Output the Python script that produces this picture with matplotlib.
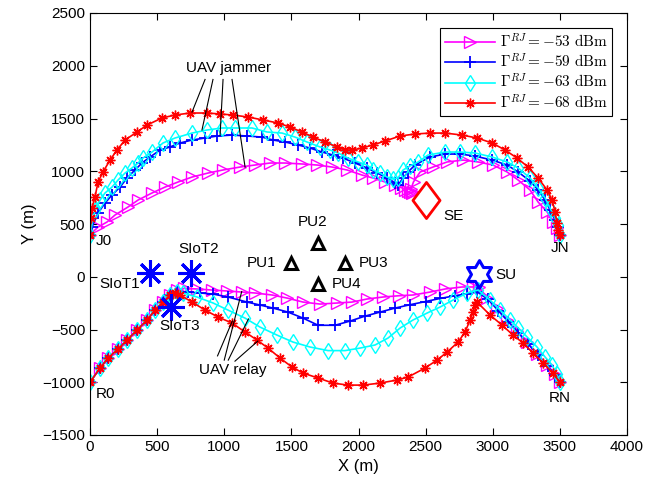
import numpy as np
import matplotlib
matplotlib.use("Agg")
import matplotlib.pyplot as plt
from matplotlib.path import Path

plt.rcParams['font.family'] = ['Liberation Sans', 'DejaVu Sans']
plt.rcParams['mathtext.fontset'] = 'cm'

# ---- data ----
legend_labels = [r'$\Gamma^{RJ} = -53\ \mathrm{dBm}$', r'$\Gamma^{RJ} = -59\ \mathrm{dBm}$',
                 r'$\Gamma^{RJ} = -63\ \mathrm{dBm}$', r'$\Gamma^{RJ} = -68\ \mathrm{dBm}$']

# UAV jammer trajectories
jam53_x = [0, 60, 127, 186, 283, 358, 462, 559, 656, 760, 879, 991, 1118, 1229, 1341, 1453, 1579, 1691,
           1803, 1915, 2026, 2108, 2198, 2272, 2320, 2345, 2365, 2380, 2395, 2405, 2390, 2410, 2459, 2555,
           2660, 2779, 2891, 3002, 3107, 3189, 3278, 3338, 3405, 3449, 3479, 3500]
jam53_y = [400, 471, 519, 585, 661, 727, 794, 850, 898, 945, 983, 1012, 1040, 1059, 1078, 1078, 1069, 1059,
           1040, 1012, 964, 936, 898, 869, 845, 825, 810, 800, 790, 800, 830, 900, 993, 1040,
           1088, 1106, 1088, 1059, 993, 917, 822, 708, 614, 519, 462, 400]

jam59_x = [0, 15, 60, 112, 164, 224, 276, 335, 387, 447, 522, 596, 671, 760, 857, 946, 1058, 1170, 1281,
           1363, 1453, 1550, 1639, 1728, 1810, 1885, 1974, 2064, 2138, 2213, 2272, 2295, 2332, 2369, 2421,
           2533, 2645, 2757, 2868, 2995, 3107, 3189, 3278, 3338, 3390, 3427, 3464, 3487, 3500]
jam59_y = [400, 471, 604, 699, 775, 850, 936, 1012, 1078, 1135, 1201, 1230, 1268, 1296, 1315, 1334, 1343,
           1334, 1324, 1296, 1277, 1249, 1220, 1182, 1154, 1125, 1078, 1031, 983, 936, 888, 869, 936, 993,
           1059, 1135, 1163, 1163, 1144, 1106, 1059, 993, 907, 822, 727, 632, 538, 471, 400]

jam63_x = [0, 37, 75, 112, 164, 209, 261, 313, 358, 395, 462, 544, 633, 760, 872, 983, 1080, 1207, 1319,
           1430, 1527, 1617, 1714, 1788, 1848, 1922, 1997, 2064, 2108, 2160, 2213, 2257, 2295, 2332, 2384,
           2444, 2518, 2645, 2757, 2868, 2995, 3107, 3189, 3278, 3338, 3390, 3427, 3464, 3487, 3500]
jam63_y = [400, 632, 727, 794, 850, 917, 983, 1031, 1078, 1125, 1182, 1268, 1315, 1362, 1391, 1410, 1410,
           1410, 1372, 1362, 1324, 1277, 1230, 1201, 1173, 1125, 1088, 1059, 1012, 983, 945, 926, 936, 1012,
           1050, 1088, 1154, 1182, 1182, 1173, 1135, 1088, 1031, 936, 841, 746, 651, 557, 490, 400]

jam68_x = [0, 7, 15, 37, 60, 97, 149, 201, 261, 350, 425, 536, 633, 745, 872, 969, 1065, 1177, 1289, 1401,
           1490, 1579, 1661, 1751, 1840, 1900, 1952, 2026, 2108, 2198, 2310, 2421, 2533, 2645, 2771, 2883,
           2995, 3092, 3181, 3263, 3338, 3405, 3442, 3464, 3479, 3487, 3500]
jam68_y = [400, 557, 651, 756, 898, 993, 1106, 1201, 1296, 1372, 1438, 1505, 1533, 1552, 1552, 1543, 1533,
           1514, 1486, 1457, 1419, 1372, 1324, 1277, 1230, 1201, 1201, 1220, 1249, 1287, 1334, 1353, 1362,
           1362, 1343, 1315, 1268, 1201, 1125, 1040, 936, 822, 727, 614, 509, 443, 400]

# UAV relay trajectories
rel53_x = [0, 75, 134, 209, 276, 350, 425, 484, 544, 596, 648, 700, 797, 909, 1021, 1132, 1229, 1356, 1468,
           1587, 1714, 1840, 1952, 2064, 2183, 2300, 2406, 2533, 2645, 2771, 2853, 2900, 2958, 3032, 3107,
           3181, 3256, 3330, 3405, 3460, 3500]
rel53_y = [-1000, -865, -771, -685, -600, -505, -410, -316, -240, -173, -130, -110, -116, -126, -135, -145,
           -154, -173, -202, -240, -259, -249, -240, -211, -192, -180, -173, -145, -116, -97, -97, -100,
           -200, -300, -410, -510, -620, -730, -840, -920, -1000]

rel59_x = [0, 75, 134, 209, 276, 350, 425, 484, 544, 596, 648, 730, 820, 917, 1028, 1170, 1266, 1363, 1475,
           1587, 1699, 1825, 1937, 2049, 2160, 2272, 2384, 2500, 2610, 2720, 2810, 2880, 2965, 3040, 3115,
           3190, 3265, 3340, 3410, 3465, 3500]
rel59_y = [-1000, -865, -771, -685, -600, -505, -410, -316, -240, -173, -140, -145, -154, -164, -192, -240,
           -268, -297, -335, -392, -460, -460, -420, -373, -335, -297, -265, -235, -205, -180, -160, -140,
           -215, -320, -425, -530, -640, -745, -850, -930, -1000]

rel63_x = [0, 75, 134, 209, 276, 350, 425, 484, 544, 596, 648, 693, 797, 917, 1028, 1155, 1266, 1393, 1512,
           1639, 1773, 1900, 2012, 2123, 2220, 2310, 2406, 2511, 2608, 2704, 2809, 2891, 2980, 3055, 3129,
           3190, 3256, 3330, 3390, 3442, 3475, 3500]
rel63_y = [-1000, -865, -771, -685, -600, -505, -410, -316, -240, -173, -145, -154, -192, -249, -316, -392,
           -477, -553, -619, -666, -700, -700, -676, -647, -581, -486, -410, -344, -287, -221, -154, -126,
           -221, -316, -410, -485, -571, -666, -761, -837, -920, -1000]

rel68_x = [0, 75, 134, 209, 276, 350, 425, 484, 544, 596, 635, 671, 760, 857, 954, 1058, 1155, 1244, 1326,
           1416, 1505, 1587, 1699, 1810, 1922, 2034, 2160, 2287, 2369, 2496, 2585, 2660, 2742, 2794, 2831,
           2853, 2868, 2883, 2980, 3069, 3151, 3226, 3300, 3375, 3449, 3500]
rel68_y = [-1000, -865, -771, -685, -600, -505, -410, -316, -240, -173, -150, -173, -240, -316, -382, -439,
           -524, -600, -676, -771, -856, -913, -960, -1008, -1027, -1027, -1008, -979, -951, -865, -790, -714,
           -619, -524, -410, -335, -268, -240, -363, -458, -553, -628, -723, -818, -913, -1000]

# fixed nodes
pu_names = ['PU1', 'PU2', 'PU3', 'PU4']
pu_x = [1500, 1700, 1900, 1700]
pu_y = [130, 320, 130, -70]
siot_names = ['SIoT1', 'SIoT2', 'SIoT3']
siot_x = [450, 750, 600]
siot_y = [40, 40, -290]
su_x, su_y = 2900, 30
se_x, se_y = 2500, 730
end_names = ['J0', 'JN', 'R0', 'RN']
end_x = [0, 3500, 0, 3500]
end_y = [400, 400, -1000, -1000]

# ---- figure ----
fig = plt.figure(figsize=(6.65, 4.91), dpi=100)
ax = fig.add_axes([90 / 665, 1 - 435 / 491, 537 / 665, 422 / 491])

ax.plot(end_x, end_y, 'kx', ms=5, mew=2, zorder=1)

styles = [dict(color='#ff00ff', marker='>', mfc='none', ms=8),
          dict(color='#0000ff', marker='+', ms=8, mew=1.3),
          dict(color='#00ffff', marker='d', mfc='none', ms=8.5),
          dict(color='#ff0000', marker=(8, 2, 0), ms=7, mew=1.0)]
jam = [(jam53_x, jam53_y), (jam59_x, jam59_y), (jam63_x, jam63_y), (jam68_x, jam68_y)]
rel = [(rel53_x, rel53_y), (rel59_x, rel59_y), (rel63_x, rel63_y), (rel68_x, rel68_y)]
handles = []
for st, (jx, jy), (rx, ry), lab in zip(styles, jam, rel, legend_labels):
    h, = ax.plot(jx, jy, lw=1.2, label=lab, **st)
    ax.plot(rx, ry, lw=1.2, **st)
    handles.append(h)

# PUs
ax.plot(pu_x, pu_y, '^', color='k', mfc='none', ms=9, mew=2.2, ls='none')
ax.text(pu_x[0] - 110, pu_y[0], pu_names[0], ha='right', va='center', fontsize=11)
ax.text(pu_x[1] - 40, pu_y[1] + 130, pu_names[1], ha='center', va='bottom', fontsize=11)
ax.text(pu_x[2] + 100, pu_y[2], pu_names[2], ha='left', va='center', fontsize=11)
ax.text(pu_x[3] + 100, pu_y[3], pu_names[3], ha='left', va='center', fontsize=11)

# SIoTs
ax.plot(siot_x, siot_y, color='#0000ff', marker=(8, 2, 0), ms=19, mew=2.2, ls='none')
ax.text(siot_x[0] - 80, siot_y[0] - 110, siot_names[0], ha='right', va='center', fontsize=11)
ax.text(siot_x[1] + 60, siot_y[1] + 220, siot_names[1], ha='center', va='center', fontsize=11)
ax.text(siot_x[2] + 70, siot_y[2] - 180, siot_names[2], ha='center', va='center', fontsize=11)

# SU hexagram (closed polygon, first vertex repeated)
k = np.arange(13)
ang = np.pi / 2 + k * np.pi / 6
r = np.where(k % 2 == 0, 1.0, 1 / np.sqrt(3))
hexagram = Path(np.column_stack([r * np.cos(ang), r * np.sin(ang)]), closed=True)
ax.plot([su_x], [su_y], color='#0000ff', marker=hexagram, mfc='none', ms=20, mew=2.2, ls='none')
ax.text(su_x + 120, su_y - 10, 'SU', ha='left', va='center', fontsize=11)

# SE diamond
diamond = Path([(0, 1), (0.75, 0), (0, -1), (-0.75, 0), (0, 1)], closed=True)
ax.plot([se_x], [se_y], color='#ff0000', marker=diamond, mfc='none', ms=26, mew=2.0, ls='none')
ax.text(se_x + 130, se_y - 150, 'SE', ha='left', va='center', fontsize=11)

# end labels
ax.text(40, 340, end_names[0], ha='left', va='center', fontsize=11)
ax.text(3500, 270, end_names[1], ha='center', va='center', fontsize=11)
ax.text(40, -1110, end_names[2], ha='left', va='center', fontsize=11)
ax.text(3500, -1150, end_names[3], ha='center', va='center', fontsize=11)

# UAV jammer annotation
ax.text(1030, 1980, 'UAV jammer', ha='center', va='center', fontsize=11)
for x0, x1, y1 in [(857, 760, 1561), (916, 834, 1391), (991, 969, 1343), (1058, 1155, 1040)]:
    ax.plot([x0, x1], [1870, y1], color='k', lw=0.8)

# UAV relay annotation
ax.text(1060, -880, 'UAV relay', ha='center', va='center', fontsize=11)
for x0, y0, x1, y1 in [(950, -750, 1060, -420), (1000, -790, 1130, -140),
                       (1030, -790, 1180, -400), (1080, -800, 1250, -610)]:
    ax.plot([x0, x1], [y0, y1], color='k', lw=0.8)

ax.set_xlim(0, 4000)
ax.set_ylim(-1500, 2500)
ax.set_xticks(np.arange(0, 4001, 500))
ax.set_yticks(np.arange(-1500, 2501, 500))
ax.tick_params(direction='in', top=True, right=True, labelsize=11, length=5, width=0.8)
for s in ax.spines.values():
    s.set_linewidth(0.8)
ax.set_xlabel('X (m)', fontsize=12)
ax.set_ylabel('Y (m)', fontsize=12)

leg = ax.legend(handles=handles, loc='upper right', fontsize=11, handlelength=3.3,
                numpoints=1, fancybox=False, framealpha=1, edgecolor='k',
                borderpad=0.3, labelspacing=0.15, handletextpad=0.3, borderaxespad=0.95)
leg.get_frame().set_linewidth(0.8)

fig.savefig('out.png', dpi=100)
